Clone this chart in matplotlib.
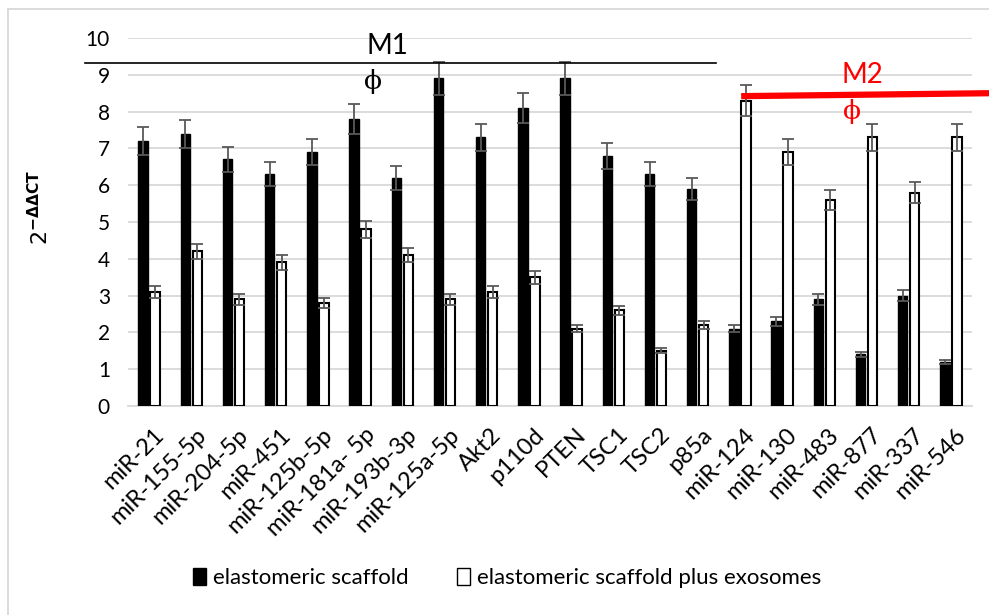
import matplotlib
matplotlib.use('Agg')
import matplotlib.pyplot as plt
import matplotlib.patches as mpatches
import matplotlib.transforms as mtransforms
import numpy as np

plt.rcParams['font.family'] = ['Lato', 'DejaVu Sans']

genes = ['miR-21', 'miR-155-5p', 'miR-204-5p', 'miR-451', 'miR-125b-5p',
         'miR-181a- 5p', 'miR-193b-3p', 'miR-125a-5p', 'Akt2', 'p110d', 'PTEN',
         'TSC1', 'TSC2', 'p85a', 'miR-124', 'miR-130', 'miR-483', 'miR-877',
         'miR-337', 'miR-546']
scaffold = [7.2, 7.4, 6.7, 6.3, 6.9, 7.8, 6.2, 8.9, 7.3, 8.1, 8.9,
            6.8, 6.3, 5.9, 2.1, 2.3, 2.9, 1.4, 3.0, 1.2]
scaffold_err = [0.37, 0.38, 0.35, 0.32, 0.35, 0.4, 0.32, 0.45, 0.37, 0.4, 0.45,
                0.35, 0.32, 0.3, 0.1, 0.12, 0.15, 0.07, 0.15, 0.06]
exosomes = [3.1, 4.2, 2.9, 3.9, 2.8, 4.8, 4.1, 2.9, 3.1, 3.5, 2.1,
            2.6, 1.5, 2.2, 8.3, 6.9, 5.6, 7.3, 5.8, 7.3]
exosomes_err = [0.16, 0.21, 0.15, 0.2, 0.14, 0.24, 0.2, 0.15, 0.16, 0.18, 0.1,
                0.13, 0.07, 0.11, 0.42, 0.35, 0.28, 0.37, 0.29, 0.37]

fig = plt.figure(figsize=(9.89, 6.15), dpi=100)
ax = fig.add_axes([128 / 989, 209 / 615, 844 / 989, 368 / 615])

x = np.arange(len(genes))
w = 0.22
off = 0.142
ekw = dict(ecolor='#595959', elinewidth=1.3, capsize=4, capthick=1.3)
ax.bar(x - off, scaffold, w, color='black', edgecolor='black', linewidth=1,
       yerr=scaffold_err, error_kw=ekw, zorder=3, label='elastomeric scaffold')
ax.bar(x + off, exosomes, w, color='white', edgecolor='black', linewidth=1.5,
       yerr=exosomes_err, error_kw=ekw, zorder=3,
       label='elastomeric scaffold plus exosomes')

ax.set_xlim(-0.5, len(genes) - 0.5)
ax.set_ylim(0, 10)
ax.set_yticks(range(0, 11))
ax.yaxis.grid(True, color='#d9d9d9', linewidth=1.3, zorder=0)
ax.set_axisbelow(True)
for s in ['top', 'right', 'left']:
    ax.spines[s].set_visible(False)
ax.spines['bottom'].set_color('#d9d9d9')
ax.spines['bottom'].set_linewidth(1.3)
ax.tick_params(axis='y', length=0, labelsize=15, pad=13)
ax.tick_params(axis='x', length=0, labelsize=17, pad=13)
ax.set_xticks(x)
ax.set_xticklabels(genes, rotation=45, ha='right', rotation_mode='anchor')
shift = mtransforms.ScaledTranslation(4 / 100, 0, fig.dpi_scale_trans)
for lab in ax.get_xticklabels():
    lab.set_transform(lab.get_transform() + shift)

fig.text(40 / 989, 1 - 207 / 615, r'$2^{\mathbf{-\Delta\Delta CT}}$', rotation=90,
         ha='center', va='center', fontsize=16)

# group brackets
ax.plot([-1.52, 13.43], [9.32, 9.32], color='black', lw=1.2, clip_on=False, zorder=4)
ax.text(5.65, 9.78, 'M1', fontsize=20, ha='center', va='center')
ax.text(5.3, 8.82, 'ϕ', fontsize=19, ha='center', va='center', family=['DejaVu Serif'])
ax.plot([14.03, 19.95], [8.42, 8.5], color='#ff0000', lw=4.5, clip_on=False,
        solid_capstyle='butt', zorder=4)
ax.text(16.9, 9.0, 'M2', fontsize=20, ha='center', va='center', color='#ff0000')
ax.text(16.65, 8.0, 'ϕ', fontsize=19, ha='center', va='center', color='#ff0000',
        family=['DejaVu Serif'])

handles = [mpatches.Patch(facecolor='black', edgecolor='black'),
           mpatches.Patch(facecolor='white', edgecolor='black')]
fig.legend(handles, ['elastomeric scaffold', 'elastomeric scaffold plus exosomes'],
           loc='center', bbox_to_anchor=(507 / 989, 1 - 578 / 615), ncol=2,
           frameon=False, fontsize=16, handlelength=0.6, handleheight=0.8,
           handletextpad=0.3, columnspacing=2.2)

# outer chart border
fig.add_artist(plt.Line2D([8 / 989, 8 / 989], [0, 1 - 9 / 615], color='#d9d9d9',
                          lw=1.3, transform=fig.transFigure))
fig.add_artist(plt.Line2D([8 / 989, 1], [1 - 9 / 615, 1 - 9 / 615], color='#d9d9d9',
                          lw=1.3, transform=fig.transFigure))

fig.savefig('out.png', dpi=100)
